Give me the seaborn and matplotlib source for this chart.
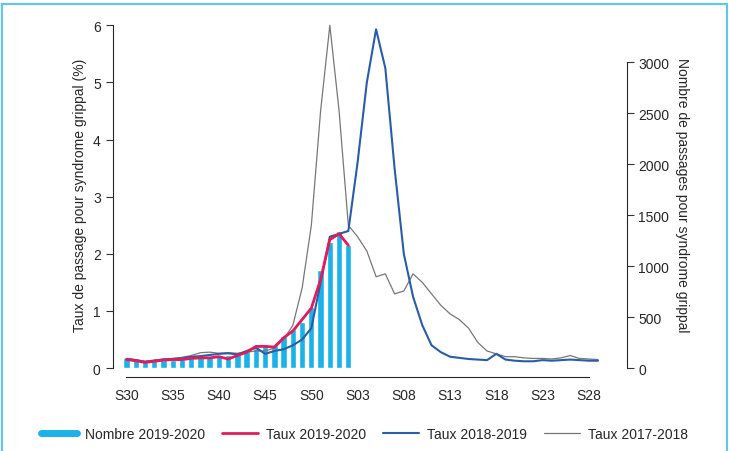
import matplotlib
matplotlib.use('Agg')
import matplotlib.pyplot as plt
import seaborn as sns
import pandas as pd
import numpy as np
from matplotlib.patches import Rectangle
from matplotlib.lines import Line2D

sns.set_style('white')
plt.rcParams['font.family'] = ['Liberation Sans', 'DejaVu Sans']

weeks = [f"S{w:02d}" for w in list(range(30, 53)) + list(range(1, 30))]

nombre_1920 = [100, 90, 67, 78, 84, 84, 90, 95, 106, 112, 118, 129, 146, 168, 196,
               241, 224, 319, 386, 454, 599, 963, 1238, 1350, 1204]
taux_1920 = [0.15, 0.13, 0.10, 0.12, 0.14, 0.15, 0.15, 0.17, 0.18, 0.18, 0.20, 0.16, 0.22,
             0.28, 0.38, 0.38, 0.37, 0.53, 0.65, 0.85, 1.05, 1.55, 2.25, 2.35, 2.15]
taux_1819 = [0.16, 0.14, 0.11, 0.13, 0.15, 0.16, 0.17, 0.20, 0.21, 0.23, 0.25, 0.26, 0.24,
             0.30, 0.36, 0.25, 0.30, 0.33, 0.40, 0.50, 0.70, 1.50, 2.30, 2.35, 2.40,
             3.60, 5.00, 5.93, 5.25, 3.50, 2.00, 1.25, 0.75, 0.40, 0.28, 0.20, 0.18,
             0.16, 0.15, 0.14, 0.25, 0.15, 0.13, 0.12, 0.12, 0.14, 0.13, 0.14, 0.15,
             0.14, 0.13, 0.13]
taux_1718 = [0.17, 0.15, 0.12, 0.14, 0.16, 0.17, 0.19, 0.22, 0.27, 0.28, 0.26, 0.27, 0.26,
             0.28, 0.30, 0.30, 0.35, 0.50, 0.75, 1.40, 2.50, 4.50, 6.00, 4.50, 2.50,
             2.30, 2.05, 1.60, 1.65, 1.30, 1.35, 1.65, 1.50, 1.30, 1.10, 0.95, 0.85,
             0.70, 0.45, 0.30, 0.25, 0.20, 0.20, 0.18, 0.17, 0.17, 0.16, 0.18, 0.22,
             0.17, 0.16, 0.15]

RATIO = 560.7
fig = plt.figure(figsize=(7.29, 4.52), dpi=100)
ax = fig.add_axes([0.162, 0.177, 0.69, 0.78])
ax2 = ax.twinx()

ylo, yhi = -0.05, 6.12
ax.set_ylim(ylo, yhi)
ax2.set_ylim(ylo * RATIO, yhi * RATIO)
ax.set_xlim(-0.9, 53.5)

cyan = '#1ab2e8'
red = '#e6195a'
blue = '#2a5caa'
grey = '#777777'

bars = pd.DataFrame({'x': np.arange(len(nombre_1920)), 'n': nombre_1920})
ax2.bar(bars['x'], bars['n'], width=0.68, color=cyan, zorder=1)

sns.lineplot(x=np.arange(len(taux_1718)), y=taux_1718, ax=ax, color=grey, lw=0.9, zorder=3)
sns.lineplot(x=np.arange(len(taux_1819)), y=taux_1819, ax=ax, color=blue, lw=1.5, zorder=4)
sns.lineplot(x=np.arange(len(taux_1920)), y=taux_1920, ax=ax, color=red, lw=2, zorder=5)
ax.set_zorder(ax2.get_zorder() + 1)
ax.patch.set_visible(False)

ticks = list(range(0, 52, 5))
ax.set_xticks(ticks)
ax.set_xticklabels([weeks[i] for i in ticks])
ax.set_yticks(range(0, 7))
ax2.set_yticks(range(0, 3001, 500))

for a in (ax, ax2):
    a.spines['top'].set_visible(False)
    a.tick_params(length=5, width=0.8, labelsize=10, color='#333333')
ax.spines['left'].set_bounds(0, 6)
ax.spines['bottom'].set_bounds(0, 50)
ax2.spines['right'].set_bounds(0, 3000)
ax2.spines['left'].set_visible(False)
ax2.spines['bottom'].set_visible(False)
for s in ['left', 'bottom']:
    ax.spines[s].set_position(('outward', 4))
ax2.spines['right'].set_position(('outward', 4))
ax.spines['right'].set_visible(False)

ax.set_ylabel('Taux de passage pour syndrome grippal (%)', fontsize=10)
ax2.set_ylabel('Nombre de passages pour syndrome grippal', fontsize=10, rotation=270, labelpad=14)

handles = [Line2D([0], [0], color=cyan, lw=5),
           Line2D([0], [0], color=red, lw=2),
           Line2D([0], [0], color=blue, lw=1.5),
           Line2D([0], [0], color=grey, lw=0.9)]
labels = ['Nombre 2019-2020', 'Taux 2019-2020', 'Taux 2018-2019', 'Taux 2017-2018']
fig.legend(handles, labels, loc='lower center', bbox_to_anchor=(0.5, -0.005), ncol=4,
           frameon=False, fontsize=10, handlelength=2.6, columnspacing=1.2,
           handletextpad=0.6)

fig.patches.append(Rectangle((0.003, -0.02), 0.994, 1.01, transform=fig.transFigure,
                             fill=False, edgecolor='#5cc8ec', lw=1.5))

fig.savefig('out.png', dpi=100)
